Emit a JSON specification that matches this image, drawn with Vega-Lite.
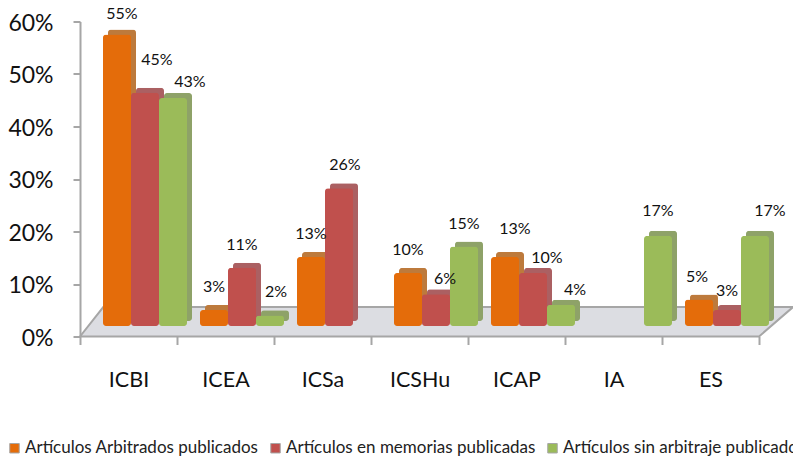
{
"$schema":"https://vega.github.io/schema/vega-lite/v6.json",
"autosize":{"type":"none"},
"padding":{"left":80,"top":21.5,"right":0,"bottom":121.5},
"width":713,"height":315,
"background":"white",
"config":{"view":{"stroke":null},"font":"Lato"},
"datasets":{
"bars":[
{"id":"a1","cat":"ICBI","serie":"Artículos Arbitrados publicados","v":55,"pct":55},
{"id":"a2","cat":"ICBI","serie":"Artículos en memorias publicadas","v":44,"pct":45},
{"id":"a3","cat":"ICBI","serie":"Artículos sin arbitraje publicados","v":43,"pct":43},
{"id":"b1","cat":"ICEA","serie":"Artículos Arbitrados publicados","v":3,"pct":3},
{"id":"b2","cat":"ICEA","serie":"Artículos en memorias publicadas","v":11,"pct":11},
{"id":"b3","cat":"ICEA","serie":"Artículos sin arbitraje publicados","v":2,"pct":2},
{"id":"c1","cat":"ICSa","serie":"Artículos Arbitrados publicados","v":13,"pct":13},
{"id":"c2","cat":"ICSa","serie":"Artículos en memorias publicadas","v":26,"pct":26},
{"id":"d1","cat":"ICSHu","serie":"Artículos Arbitrados publicados","v":10,"pct":10},
{"id":"d2","cat":"ICSHu","serie":"Artículos en memorias publicadas","v":6,"pct":6},
{"id":"d3","cat":"ICSHu","serie":"Artículos sin arbitraje publicados","v":15,"pct":15},
{"id":"e1","cat":"ICAP","serie":"Artículos Arbitrados publicados","v":13,"pct":13},
{"id":"e2","cat":"ICAP","serie":"Artículos en memorias publicadas","v":10,"pct":10},
{"id":"e3","cat":"ICAP","serie":"Artículos sin arbitraje publicados","v":4,"pct":4},
{"id":"f3","cat":"IA","serie":"Artículos sin arbitraje publicados","v":17,"pct":17},
{"id":"g1","cat":"ES","serie":"Artículos Arbitrados publicados","v":5,"pct":5},
{"id":"g2","cat":"ES","serie":"Artículos en memorias publicadas","v":3,"pct":3},
{"id":"g3","cat":"ES","serie":"Artículos sin arbitraje publicados","v":17,"pct":17}
],
"floor":[
{"p":0,"low":0,"high":0},
{"p":0.24,"low":0,"high":5.6},
{"p":7,"low":0,"high":5.6},
{"p":7.35,"low":5.6,"high":5.6}
],
"edge":[
{"p":0,"h":0,"o":1},
{"p":0.24,"h":5.6,"o":2},
{"p":7.35,"h":5.6,"o":3},
{"p":7,"h":0,"o":4},
{"p":0,"h":0,"o":5}
]
},
"resolve":{"scale":{"x":"independent","y":"independent","color":"independent","xOffset":"independent"},"axis":{"x":"independent","y":"independent"}},
"layer":[
{"layer":[
{"data":{"name":"floor"},"mark":{"type":"area","color":"#dcdde2","opacity":1,"orient":"vertical"},
 "encoding":{"x":{"field":"p","type":"quantitative","scale":{"domain":[0,7.35],"range":[0,713],"nice":false,"zero":false},"axis":null},
 "y":{"field":"low","type":"quantitative","stack":null,"scale":{"domain":[0,60],"nice":false},"axis":{"values":[0,10,20,30,40,50,60],"format":".0f","labelExpr":"datum.label+'%'","title":null,"grid":false,"domainColor":"#a6a6a6","domainWidth":2,"tickColor":"#a6a6a6","tickWidth":2,"tickSize":7,"labelFontSize":23,"labelColor":"#111111","labelFont":"Lato","labelPadding":20,"labelOffset":1.5}},
 "y2":{"field":"high"}}},
{"data":{"name":"edge"},"mark":{"type":"line","color":"#a6a6a6","strokeWidth":2},
 "encoding":{"x":{"field":"p","type":"quantitative"},"y":{"field":"h","type":"quantitative"},"order":{"field":"o"}}}
]},
{"data":{"name":"bars"},
 "mark":{"type":"bar","cornerRadius":3},
 "encoding":{
 "x":{"field":"cat","type":"nominal","sort":["ICBI","ICEA","ICSa","ICSHu","ICAP","IA","ES"],"scale":{"range":[0,679],"paddingInner":0,"paddingOuter":0},"axis":null},
 "xOffset":{"field":"serie","type":"nominal","sort":["Artículos Arbitrados publicados","Artículos en memorias publicadas","Artículos sin arbitraje publicados"],"scale":{"domain":["Artículos Arbitrados publicados","Artículos en memorias publicadas","Artículos sin arbitraje publicados"],"range":[28,112],"paddingInner":0,"paddingOuter":0}},
 "y":{"field":"v","type":"quantitative","scale":{"domain":[-2.93,56.5],"nice":false},"axis":null},
 "color":{"field":"serie","type":"nominal","legend":null,"scale":{"domain":["Artículos Arbitrados publicados","Artículos en memorias publicadas","Artículos sin arbitraje publicados"],"range":["#bd7a3c","#ab6062","#8ea268"]}}
 }},
{"data":{"name":"bars"},
 "mark":{"type":"bar","cornerRadius":3},
 "encoding":{
 "x":{"field":"cat","type":"nominal","sort":["ICBI","ICEA","ICSa","ICSHu","ICAP","IA","ES"],"scale":{"range":[0,679],"paddingInner":0,"paddingOuter":0},"axis":{"orient":"bottom","title":null,"tickBand":"extent","domain":false,"labelAngle":0,"tickColor":"#a6a6a6","tickWidth":2,"tickSize":8,"labelFontSize":21.5,"labelColor":"#111111","labelFont":"Lato","labelPadding":25}},
 "xOffset":{"field":"serie","type":"nominal","sort":["Artículos Arbitrados publicados","Artículos en memorias publicadas","Artículos sin arbitraje publicados"],"scale":{"domain":["Artículos Arbitrados publicados","Artículos en memorias publicadas","Artículos sin arbitraje publicados"],"range":[23,107],"paddingInner":0,"paddingOuter":0}},
 "y":{"field":"v","type":"quantitative","scale":{"domain":[-1.98,57.45],"nice":false},"axis":null},
 "color":{"field":"serie","type":"nominal","scale":{"domain":["Artículos Arbitrados publicados","Artículos en memorias publicadas","Artículos sin arbitraje publicados"],"range":["#e46c0a","#c0504d","#9bbb59"]},
 "legend":{"title":null,"orient":"none","legendX":-74,"legendY":418,"direction":"horizontal","columns":3,"columnPadding":8,"symbolType":"square","symbolSize":90,"symbolStrokeColor":"#a6a6a6","symbolStrokeWidth":1,"labelFontSize":17,"labelFont":"Lato","labelColor":"#222222","labelLimit":0,"labelOffset":2}}
 }},
{"data":{"name":"bars"},
 "encoding":{
 "x":{"field":"cat","type":"nominal","sort":["ICBI","ICEA","ICSa","ICSHu","ICAP","IA","ES"],"scale":{"range":[0,679],"paddingInner":0,"paddingOuter":0},"axis":null},
 "xOffset":{"field":"serie","type":"nominal","sort":["Artículos Arbitrados publicados","Artículos en memorias publicadas","Artículos sin arbitraje publicados"],"scale":{"domain":["Artículos Arbitrados publicados","Artículos en memorias publicadas","Artículos sin arbitraje publicados"],"range":[37,93],"padding":0}},
 "y":{"field":"v","type":"quantitative","scale":{"domain":[-1.98,57.45],"nice":false},"axis":null},
 "text":{"field":"t"}
 },
 "transform":[{"calculate":"datum.pct+'%'","as":"t"}],
 "layer":[
 {"transform":[{"filter":"datum.id=='a1'"}],"mark":{"type":"text","fontSize":16,"font":"Lato","color":"#111111","dx":5,"dy":-20}},
 {"transform":[{"filter":"datum.id=='a2'"}],"mark":{"type":"text","fontSize":16,"font":"Lato","color":"#111111","dx":12,"dy":-33}},
 {"transform":[{"filter":"datum.id=='a3'"}],"mark":{"type":"text","fontSize":16,"font":"Lato","color":"#111111","dx":17,"dy":-16}},
 {"transform":[{"filter":"datum.id=='b1'||datum.id=='b2'||datum.id=='c1'||datum.id=='d1'||datum.id=='d3'"}],"mark":{"type":"text","fontSize":16,"font":"Lato","color":"#111111","dy":-23}},
 {"transform":[{"filter":"datum.id=='b3'||datum.id=='c2'"}],"mark":{"type":"text","fontSize":16,"font":"Lato","color":"#111111","dx":6,"dy":-23}},
 {"transform":[{"filter":"datum.id=='d2'"}],"mark":{"type":"text","fontSize":16,"font":"Lato","color":"#111111","dx":9,"dy":-15}},
 {"transform":[{"filter":"datum.id=='e1'"}],"mark":{"type":"text","fontSize":16,"font":"Lato","color":"#111111","dx":10,"dy":-28}},
 {"transform":[{"filter":"datum.id=='e2'||datum.id=='e3'"}],"mark":{"type":"text","fontSize":16,"font":"Lato","color":"#111111","dx":14,"dy":-15}},
 {"transform":[{"filter":"datum.id=='f3'"}],"mark":{"type":"text","fontSize":16,"font":"Lato","color":"#111111","dy":-25}},
 {"transform":[{"filter":"datum.id=='g1'"}],"mark":{"type":"text","fontSize":16,"font":"Lato","color":"#111111","dx":-2,"dy":-23}},
 {"transform":[{"filter":"datum.id=='g2'"}],"mark":{"type":"text","fontSize":16,"font":"Lato","color":"#111111","dy":-19}},
 {"transform":[{"filter":"datum.id=='g3'"}],"mark":{"type":"text","fontSize":16,"font":"Lato","color":"#111111","dx":15,"dy":-25}}
 ]
}
]
}
